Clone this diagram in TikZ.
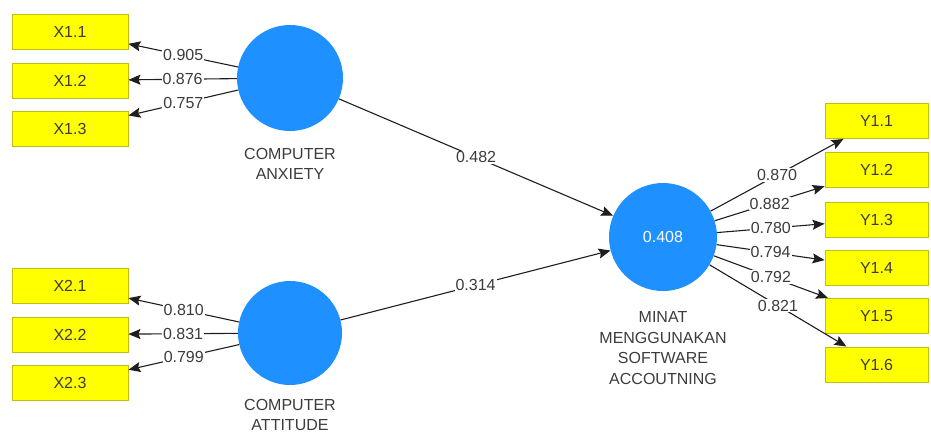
\documentclass[tikz,border=0pt]{standalone}
\usepackage{fontspec}
\setmainfont{Liberation Sans}
\usetikzlibrary{arrows.meta}
\definecolor{txt}{RGB}{60,60,60}
\definecolor{boxfill}{RGB}{255,255,0}
\definecolor{boxline}{RGB}{190,190,20}
\definecolor{lvblue}{RGB}{30,144,255}
\definecolor{lineclr}{RGB}{30,30,30}
\tikzset{
  indbox/.style={draw=boxline, line width=0.9pt, fill=boxfill, minimum width=116pt, minimum height=35pt, inner sep=0pt, text=txt, font=\fontsize{16}{19}\selectfont},
  ybox/.style={indbox, minimum width=103pt},
  latent/.style={circle, fill=lvblue, draw=none, inner sep=0pt, text=white, font=\fontsize{16}{19}\selectfont},
  lvname/.style={align=center, text=txt, font=\fontsize{16}{20.5}\selectfont, inner sep=0pt},
  conn/.style={draw=lineclr, line width=1.1pt, -{Stealth[length=12pt,width=10pt,inset=2pt]}},
  coef/.style={fill=white, inner sep=1pt, text=txt, font=\fontsize{16}{19}\selectfont}
}
\begin{document}
\begin{tikzpicture}[x=1pt,y=-1pt]
\useasboundingbox (0,0) rectangle (931,436);
% indicators left
\node[indbox] (X11) at (70,31.5) {X1.1};
\node[indbox] (X12) at (70,80.5) {X1.2};
\node[indbox] (X13) at (70,129) {X1.3};
\node[indbox] (X21) at (70,285.5) {X2.1};
\node[indbox] (X22) at (70,334.5) {X2.2};
\node[indbox] (X23) at (70,383) {X2.3};
% indicators right
\node[ybox] (Y11) at (876.5,121) {Y1.1};
\node[ybox] (Y12) at (876.5,170) {Y1.2};
\node[ybox] (Y13) at (876.5,219.5) {Y1.3};
\node[ybox] (Y14) at (876.5,267.5) {Y1.4};
\node[ybox] (Y15) at (876.5,316) {Y1.5};
\node[ybox] (Y16) at (876.5,364.5) {Y1.6};
% latent variables
\node[latent, minimum size=106pt] (CA) at (290,78) {};
\node[latent, minimum size=104pt] (CT) at (290,333) {};
\node[latent, minimum size=108pt] (MI) at (663,237) {0.408};
% names
\node[lvname] (CAn) at (290,164) {COMPUTER\\ANXIETY};
\node[lvname] (CTn) at (290,415) {COMPUTER\\ATTITUDE};
\node[lvname] (MIn) at (663,348) {MINAT\\MENGGUNAKAN\\SOFTWARE\\ACCOUTNING};
% outer loadings
\draw[conn] (CA) -- node[coef] {0.905} (X11);
\draw[conn] (CA) -- node[coef] {0.876} (X12);
\draw[conn] (CA) -- node[coef] {0.757} (X13);
\draw[conn] (CT) -- node[coef] {0.810} (X21);
\draw[conn] (CT) -- node[coef] {0.831} (X22);
\draw[conn] (CT) -- node[coef] {0.799} (X23);
\draw[conn] (MI) -- node[coef] {0.870} (Y11);
\draw[conn] (MI) -- node[coef] {0.882} (Y12);
\draw[conn] (MI) -- node[coef] {0.780} (Y13);
\draw[conn] (MI) -- node[coef] {0.794} (Y14);
\draw[conn] (MI) -- node[coef] {0.792} (Y15);
\draw[conn] (MI) -- node[coef] {0.821} (Y16);
% paths
\draw[conn] (CA) -- node[coef] {0.482} (MI);
\draw[conn] (CT) -- node[coef] {0.314} (MI);
\end{tikzpicture}
\end{document}
